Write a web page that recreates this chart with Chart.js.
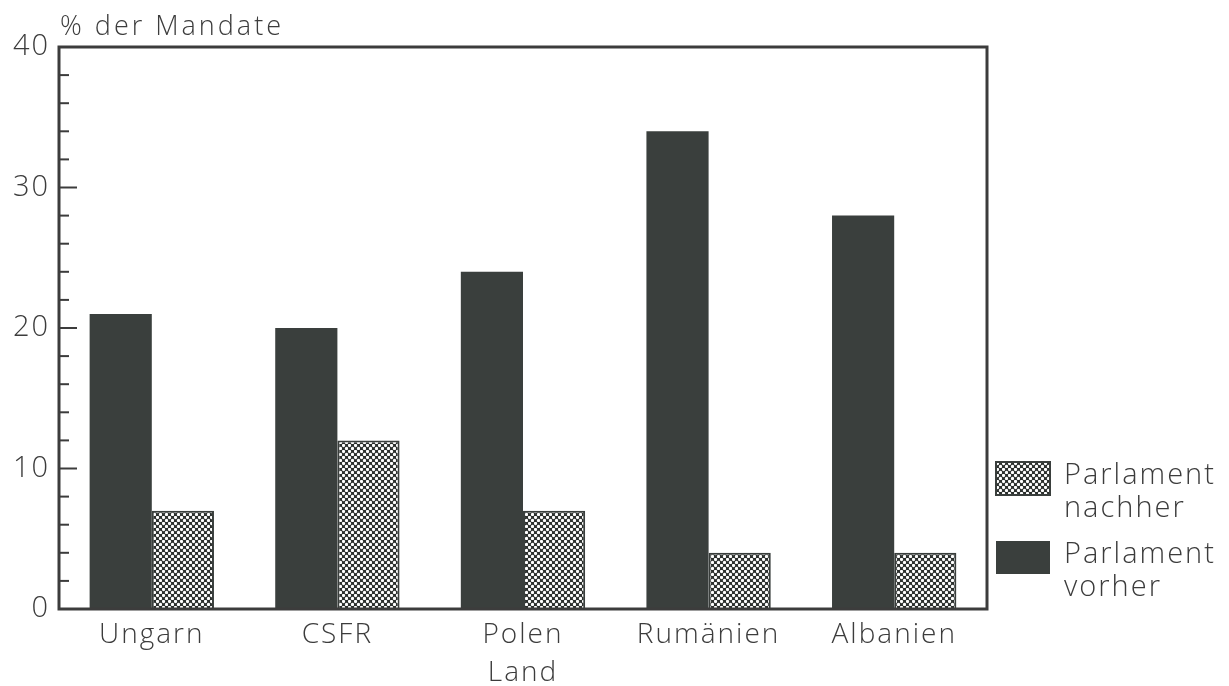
<!DOCTYPE html>
<html>
<head>
<meta charset="utf-8">
<script src="https://cdn.jsdelivr.net/npm/chart.js@4.4.0/dist/chart.umd.min.js"></script>
<style>
  html, body { margin: 0; background: #fff; }
</style>
</head>
<body>
<canvas id="mandate" width="1229" height="686"></canvas>
<script>
// Daten
const laender = ['Ungarn', 'CSFR', 'Polen', 'Rumänien', 'Albanien'];
const vorher = [21, 20, 24, 34, 28];
const nachher = [7, 12, 7, 4, 4];
const yTicks = [0, 10, 20, 30, 40];
const minorStep = 2;

const DARK = '#3a3f3d';
const INK = '#3c3c3c';
const FONT = "'Open Sans', 'DejaVu Sans', sans-serif";

const canvas = document.getElementById('mandate');
const ctx = canvas.getContext('2d');

// Punktraster fuer "nachher"
function dotPattern() {
  const t = document.createElement('canvas');
  t.width = 6; t.height = 6;
  const g = t.getContext('2d');
  g.fillStyle = '#2c302e';
  g.fillRect(0, 0, 6, 6);
  g.fillStyle = '#ffffff';
  [[1.5, 1.5], [4.5, 4.5]].forEach(function (p) {
    g.beginPath();
    g.arc(p[0], p[1], 1.65, 0, Math.PI * 2);
    g.fill();
  });
  return ctx.createPattern(t, 'repeat');
}
const dots = dotPattern();

// breitere Plotterschrift nachahmen
const spacing = {
  id: 'spacing',
  beforeDraw(chart) { chart.ctx.letterSpacing = '2px'; }
};

// Rahmen, Innenticks, Achsentitel und Legende
const frame = {
  id: 'frame',
  afterDatasetsDraw(chart) {
    const a = chart.chartArea;
    const y = chart.scales.y;
    const c = chart.ctx;
    c.save();
    c.strokeStyle = INK;
    c.lineWidth = 3;
    c.strokeRect(a.left, a.top, a.right - a.left, a.bottom - a.top);

    c.lineWidth = 2;
    for (let v = y.min + minorStep; v < y.max; v += minorStep) {
      const py = y.getPixelForValue(v);
      const len = v % 10 === 0 ? 18 : 10;
      c.beginPath();
      c.moveTo(a.left, py);
      c.lineTo(a.left + len, py);
      c.stroke();
    }

    c.fillStyle = INK;
    c.letterSpacing = '3px';
    c.font = '300 27px ' + FONT;
    c.textAlign = 'left';
    c.textBaseline = 'middle';
    c.fillText('% der Mandate', 60, 27);

    // Legende
    const items = [
      { ds: 1, lines: ['Parlament', 'nachher'], top: 462 },
      { ds: 0, lines: ['Parlament', 'vorher'], top: 541 }
    ];
    c.letterSpacing = '2px';
    c.font = '300 29px ' + FONT;
    items.forEach(function (it) {
      const d = chart.data.datasets[it.ds];
      c.fillStyle = d.backgroundColor;
      c.fillRect(996, it.top, 54, 33);
      if (d.borderWidth) {
        c.lineWidth = 2;
        c.strokeStyle = DARK;
        c.strokeRect(996, it.top, 54, 33);
      }
      c.fillStyle = INK;
      it.lines.forEach(function (t, i) {
        c.fillText(t, 1064, it.top + 14 + i * 33);
      });
    });
    c.restore();
  }
};

new Chart(ctx, {
  type: 'bar',
  data: {
    labels: laender,
    datasets: [
      {
        label: 'Parlament vorher',
        data: vorher,
        backgroundColor: DARK,
        borderWidth: 0
      },
      {
        label: 'Parlament nachher',
        data: nachher,
        backgroundColor: dots,
        borderColor: DARK,
        borderWidth: 2
      }
    ]
  },
  options: {
    responsive: false,
    animation: false,
    layout: { padding: { top: 47, right: 242, left: 0, bottom: 0 } },
    categoryPercentage: 0.67,
    barPercentage: 1.0,
    plugins: {
      legend: { display: false },
      tooltip: { enabled: false }
    },
    scales: {
      x: {
        grid: { display: false, drawTicks: false },
        border: { display: false },
        ticks: {
          color: INK,
          padding: 9,
          font: { family: FONT, size: 28, weight: '300' }
        },
        title: {
          display: true,
          text: 'Land',
          color: INK,
          padding: { top: 0, bottom: -4 },
          font: { family: FONT, size: 28, weight: '300' }
        },
        afterFit(s) { s.height = 77; }
      },
      y: {
        min: 0,
        max: 40,
        grid: { display: false, drawTicks: false },
        border: { display: false },
        afterBuildTicks(s) { s.ticks = yTicks.map(function (v) { return { value: v }; }); },
        ticks: {
          color: INK,
          padding: 9,
          font: { family: FONT, size: 29, weight: '300' }
        },
        afterFit(s) { s.width = 59; }
      }
    }
  },
  plugins: [spacing, frame]
});
</script>
</body>
</html>
